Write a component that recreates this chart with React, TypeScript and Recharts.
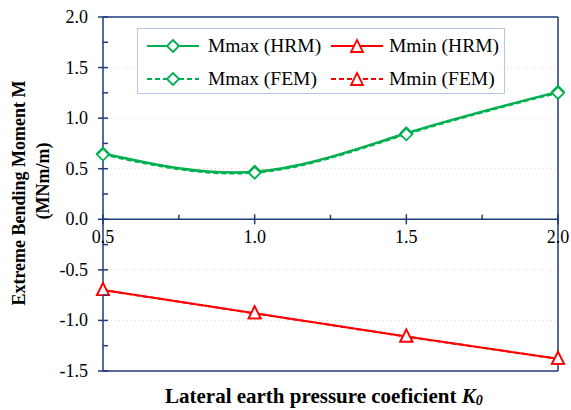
import { LineChart, Line, XAxis, YAxis, ReferenceLine, ReferenceDot } from 'recharts';

// Lateral earth pressure coefficient K0
const kValues = [0.5, 1.0, 1.5, 2.0];
// Extreme bending moments (MNm/m)
const mmaxHrm = [0.65, 0.47, 0.85, 1.26];
const mmaxFem = [0.64, 0.46, 0.84, 1.25];
const mminHrm = [-0.7, -0.93, -1.16, -1.38];
const mminFem = [-0.7, -0.93, -1.16, -1.38];

const yTicks = [-1.5, -1.25, -1.0, -0.75, -0.5, -0.25, 0, 0.25, 0.5, 0.75, 1.0, 1.25, 1.5, 1.75, 2.0];
const xMajorTicks = [0.5, 1.0, 1.5, 2.0];
const xMinorTicks = [0.75, 1.25, 1.75];
const gridValues = [1.5, 1.0, 0.5, -0.5, -1.0];

const NAVY = '#1F3A7A';
const GREEN = '#00B050';
const RED = '#FF0000';
const FONT = 'Liberation Serif';

const data = kValues.map((k, i) => ({
    k,
    mmaxHrm: mmaxHrm[i],
    mmaxFem: mmaxFem[i],
    mminHrm: mminHrm[i],
    mminFem: mminFem[i],
}));

const diamondPath = (cx: number, cy: number, r = 6) => `M${cx},${cy - r} L${cx + r},${cy} L${cx},${cy + r} L${cx - r},${cy} Z`;
const trianglePath = (cx: number, cy: number) => `M${cx},${cy - 7} L${cx + 6},${cy + 5} L${cx - 6},${cy + 5} Z`;

const diamondDot = (p: any) => (
    <path key={`dm-${p.dataKey}-${p.index}`} d={diamondPath(p.cx, p.cy)} fill="#fff" stroke={GREEN} strokeWidth={1.8} />
);
const triangleDot = (p: any) => (
    <path key={`tr-${p.dataKey}-${p.index}`} d={trianglePath(p.cx, p.cy)} fill="#fff" stroke={RED} strokeWidth={1.8} />
);

// major ticks cross the axis and carry a label, minor ticks point inward
const YTick = ({ x, y, payload }: any) => {
    const v = payload.value as number;
    const major = Math.abs(v * 2 - Math.round(v * 2)) < 1e-6;
    return (
        <g>
            <line x1={major ? x - 5 : x} x2={x + 5} y1={y} y2={y} stroke={NAVY} strokeWidth={1.5} />
            {major && (
                <text x={x - 15} y={y} dy={6} textAnchor="end" fontSize={18} fontFamily={FONT} fill="#000">
                    {v.toFixed(1)}
                </text>
            )}
        </g>
    );
};

const LegendItem = ({ color, dashed, marker, label, left, textLeft, top }: any) => (
    <>
        <svg width={52} height={20} style={{ position: 'absolute', left, top: top - 10 }}>
            <line x1={0} x2={52} y1={10} y2={10} stroke={color} strokeWidth={2} strokeDasharray={dashed ? '5 3' : undefined} />
            <path d={marker === 'diamond' ? diamondPath(26, 10) : trianglePath(26, 11)} fill="#fff" stroke={color} strokeWidth={1.8} />
        </svg>
        <span
            style={{
                position: 'absolute',
                left: textLeft,
                top: top - 12,
                lineHeight: '24px',
                fontSize: 19.5,
                fontFamily: FONT,
                whiteSpace: 'nowrap',
            }}
        >
            {label}
        </span>
    </>
);

export default function App() {
    return (
        <div style={{ position: 'absolute', left: 0, top: 0, width: 571, height: 410, background: '#fff', fontFamily: FONT }}>
            <LineChart width={571} height={410} data={data} margin={{ top: 17, right: 13, bottom: 39, left: 0 }}>
                <XAxis dataKey="k" type="number" domain={[0.5, 2]} hide />
                <YAxis
                    type="number"
                    domain={[-1.5, 2]}
                    ticks={yTicks}
                    interval={0}
                    width={103}
                    tickSize={0}
                    tickMargin={0}
                    tickLine={false}
                    tick={<YTick />}
                    axisLine={{ stroke: NAVY, strokeWidth: 1.5 }}
                    label={{
                        content: () => (
                            <g fontFamily={FONT} fontWeight="bold" fontSize={18} fill="#000">
                                <text x={25} y={193} transform="rotate(-90, 25, 193)" textAnchor="middle">
                                    Extreme Bending Moment M
                                </text>
                                <text x={49} y={181} transform="rotate(-90, 49, 181)" textAnchor="middle">
                                    (MNm/m)
                                </text>
                            </g>
                        ),
                    }}
                />
                {gridValues.map((v) => (
                    <ReferenceLine key={`g-${v}`} y={v} stroke="#F8CBAD" strokeDasharray="1 3" strokeWidth={1} />
                ))}
                <ReferenceLine y={2} stroke={NAVY} strokeWidth={1.5} />
                <ReferenceLine y={-1.5} stroke={NAVY} strokeWidth={1.5} />
                <ReferenceLine x={2} stroke={NAVY} strokeWidth={1.5} />
                <ReferenceLine y={0} stroke={NAVY} strokeWidth={1.5} />
                {xMajorTicks.map((v) => (
                    <ReferenceLine key={`xt-${v}`} segment={[{ x: v, y: -0.05 }, { x: v, y: 0.05 }]} stroke={NAVY} strokeWidth={1.5} />
                ))}
                {xMinorTicks.map((v) => (
                    <ReferenceLine key={`xm-${v}`} segment={[{ x: v, y: 0 }, { x: v, y: 0.045 }]} stroke={NAVY} strokeWidth={1.5} />
                ))}
                {xMajorTicks.map((v) => (
                    <ReferenceDot
                        key={`xl-${v}`}
                        x={v}
                        y={0}
                        r={0}
                        fill="none"
                        stroke="none"
                        label={{ value: v.toFixed(1), position: 'bottom', offset: 11, fontSize: 18, fontFamily: FONT, fill: '#000' }}
                    />
                ))}
                <Line type="natural" dataKey="mmaxHrm" stroke={GREEN} strokeWidth={2.5} dot={diamondDot} isAnimationActive={false} />
                <Line type="natural" dataKey="mmaxFem" stroke={GREEN} strokeWidth={2} strokeDasharray="5 3" dot={diamondDot} isAnimationActive={false} />
                <Line type="linear" dataKey="mminHrm" stroke={RED} strokeWidth={2} dot={triangleDot} isAnimationActive={false} />
                <Line type="linear" dataKey="mminFem" stroke={RED} strokeWidth={2} strokeDasharray="5 3" dot={triangleDot} isAnimationActive={false} />
            </LineChart>

            <div
                style={{
                    position: 'absolute',
                    left: 137,
                    top: 28,
                    width: 366,
                    height: 64,
                    border: '1px solid #B4C7E7',
                    background: '#fff',
                }}
            >
                <LegendItem color={GREEN} marker="diamond" label="Mmax (HRM)" left={9} textLeft={70} top={17} />
                <LegendItem color={RED} marker="triangle" label="Mmin (HRM)" left={193} textLeft={251} top={17} />
                <LegendItem color={GREEN} dashed marker="diamond" label="Mmax (FEM)" left={9} textLeft={70} top={50} />
                <LegendItem color={RED} dashed marker="triangle" label="Mmin (FEM)" left={193} textLeft={251} top={50} />
            </div>

            <div
                style={{
                    position: 'absolute',
                    left: 165,
                    top: 383,
                    lineHeight: '26px',
                    fontSize: 21,
                    fontWeight: 'bold',
                    fontFamily: FONT,
                    whiteSpace: 'nowrap',
                }}
            >
                Lateral earth pressure coeficient{' '}
                <i>
                    K<span style={{ fontSize: 14, position: 'relative', top: 2 }}>0</span>
                </i>
            </div>
        </div>
    );
}
